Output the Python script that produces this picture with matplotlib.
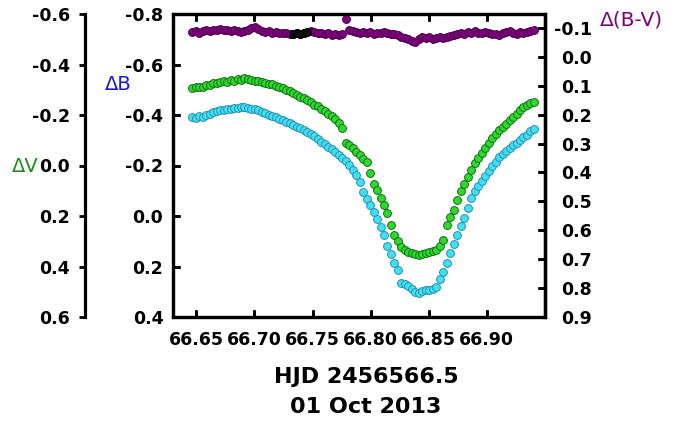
import matplotlib
matplotlib.use("Agg")
import matplotlib.pyplot as plt
from matplotlib.lines import Line2D
from matplotlib.patches import Rectangle
from matplotlib.transforms import blended_transform_factory

plt.rcParams['font.family'] = ['DejaVu Sans']
plt.rcParams['axes.unicode_minus'] = False

# ---------------- data ----------------
hjd = [66.6465, 66.6495, 66.6525, 66.6555, 66.6585, 66.6615, 66.6645, 66.6675, 66.6705, 66.6735,
       66.6765, 66.6795, 66.6825, 66.6855, 66.6885, 66.6915, 66.6945, 66.6975, 66.7005, 66.7035,
       66.7065, 66.7095, 66.7125, 66.7155, 66.7185, 66.7215, 66.7245, 66.7275, 66.7305, 66.7335,
       66.7365, 66.7395, 66.7425, 66.7455, 66.7485, 66.7515, 66.7545, 66.7575, 66.7605, 66.7635,
       66.7665, 66.7695, 66.7725, 66.7755, 66.7785, 66.7815, 66.7845, 66.7875, 66.7905, 66.7935,
       66.7965, 66.7995, 66.8025, 66.8055, 66.8085, 66.8115, 66.8145, 66.8175, 66.8205, 66.8235,
       66.8265, 66.8295, 66.8325, 66.8355, 66.8385, 66.8415, 66.8445, 66.8475, 66.8505, 66.8535,
       66.8565, 66.8595, 66.8625, 66.8655, 66.8685, 66.8715, 66.8745, 66.8775, 66.8805, 66.8835,
       66.8865, 66.8895, 66.8925, 66.8955, 66.8985, 66.9015, 66.9045, 66.9075, 66.9105, 66.9135,
       66.9165, 66.9195, 66.9225, 66.9255, 66.9285, 66.9315, 66.9345, 66.9375, 66.9405]

delta_v = [-0.305, -0.309, -0.312, -0.311, -0.320, -0.318, -0.326, -0.325, -0.330, -0.335,
           -0.332, -0.338, -0.336, -0.342, -0.340, -0.345, -0.341, -0.338, -0.333, -0.335,
           -0.329, -0.327, -0.324, -0.321, -0.316, -0.310, -0.307, -0.299, -0.294, -0.286,
           -0.281, -0.271, -0.267, -0.258, -0.252, -0.240, -0.236, -0.224, -0.217, -0.204,
           -0.197, -0.183, -0.170, -0.150, -0.088, -0.082, -0.070, -0.055, -0.042, -0.025,
           -0.012, 0.030, 0.075, 0.098, 0.128, 0.158, 0.188, 0.236, 0.275, 0.299,
           0.324, 0.334, 0.342, 0.347, 0.350, 0.355, 0.350, 0.347, 0.344, 0.340,
           0.336, 0.318, 0.295, 0.235, 0.205, 0.175, 0.135, 0.100, 0.072, 0.045,
           0.016, -0.008, -0.030, -0.049, -0.068, -0.088, -0.110, -0.124, -0.140, -0.153,
           -0.166, -0.180, -0.192, -0.205, -0.218, -0.232, -0.240, -0.247, -0.253]

delta_b = [-0.392, -0.390, -0.395, -0.392, -0.400, -0.405, -0.410, -0.414, -0.420, -0.418,
           -0.424, -0.422, -0.428, -0.426, -0.431, -0.430, -0.428, -0.425, -0.423, -0.418,
           -0.412, -0.406, -0.401, -0.396, -0.391, -0.386, -0.380, -0.374, -0.367, -0.361,
           -0.354, -0.347, -0.341, -0.334, -0.326, -0.318, -0.306, -0.295, -0.284, -0.274,
           -0.264, -0.255, -0.243, -0.230, -0.216, -0.201, -0.182, -0.163, -0.135, -0.095,
           -0.069, -0.044, -0.016, 0.012, 0.042, 0.075, 0.118, 0.150, 0.186, 0.212,
           0.265, 0.270, 0.278, 0.290, 0.300, 0.303, 0.297, 0.293, 0.295, 0.291,
           0.280, 0.250, 0.220, 0.185, 0.147, 0.110, 0.076, 0.040, 0.008, -0.031,
           -0.073, -0.098, -0.120, -0.140, -0.160, -0.178, -0.197, -0.215, -0.232, -0.245,
           -0.258, -0.268, -0.280, -0.291, -0.302, -0.311, -0.322, -0.335, -0.346]

delta_bv = [-0.086, -0.088, -0.084, -0.090, -0.092, -0.089, -0.094, -0.091, -0.095, -0.092,
            -0.093, -0.090, -0.094, -0.088, -0.086, -0.090, -0.094, -0.098, -0.103, -0.096,
            -0.090, -0.086, -0.088, -0.084, -0.086, -0.083, -0.081, -0.084, -0.080, -0.079,
            -0.082, -0.078, -0.083, -0.086, -0.088, -0.085, -0.082, -0.084, -0.079, -0.081,
            -0.077, -0.080, -0.076, -0.078, -0.131, -0.093, -0.090, -0.086, -0.083, -0.087,
            -0.082, -0.085, -0.080, -0.084, -0.081, -0.086, -0.082, -0.078, -0.080, -0.074,
            -0.070, -0.066, -0.061, -0.055, -0.052, -0.060, -0.067, -0.064, -0.068, -0.063,
            -0.066, -0.070, -0.065, -0.069, -0.073, -0.076, -0.079, -0.083, -0.080, -0.086,
            -0.083, -0.088, -0.084, -0.081, -0.085, -0.082, -0.078, -0.080, -0.076, -0.081,
            -0.085, -0.088, -0.084, -0.080, -0.085, -0.082, -0.087, -0.090, -0.094]

# a few points drawn in black within the colour-index series
black_hjd = [66.7335, 66.7365, 66.7395, 66.7425, 66.7450]
black_bv = [-0.079, -0.082, -0.078, -0.083, -0.085]

x_ticks = [66.65, 66.70, 66.75, 66.80, 66.85, 66.90]
x_tick_labels = ['66.65', '66.70', '66.75', '66.80', '66.85', '66.90']
b_ticks = [-0.8, -0.6, -0.4, -0.2, 0.0, 0.2, 0.4]
b_tick_labels = ['-0.8', '-0.6', '-0.4', '-0.2', '0.0', '0.2', '0.4']
v_ticks = [-0.6, -0.4, -0.2, 0.0, 0.2, 0.4, 0.6]
v_tick_labels = ['-0.6', '-0.4', '-0.2', '0.0', '0.2', '0.4', '0.6']
bv_ticks = [-0.1, 0.0, 0.1, 0.2, 0.3, 0.4, 0.5, 0.6, 0.7, 0.8, 0.9]
bv_tick_labels = ['-0.1', '0.0', '0.1', '0.2', '0.3', '0.4', '0.5', '0.6', '0.7', '0.8', '0.9']

# ---------------- figure ----------------
W, H = 685, 422
fig = plt.figure(figsize=(W / 100, H / 100), dpi=100)

L, R, T, B = 173, 545, 14, 317
ax = fig.add_axes([L / W, 1 - B / H, (R - L) / W, (B - T) / H])

tick_fs = 12.5
spine_lw = 2.3
tick_len_pt = 4
tick_w = 2

# main axis: delta B (cyan)
ax.set_xlim(66.630, 66.950)
ax.set_ylim(0.4, -0.8)
ax.set_xticks(x_ticks)
ax.set_xticklabels(x_tick_labels, fontsize=tick_fs, fontweight='bold')
ax.set_yticks(b_ticks)
ax.set_yticklabels(b_tick_labels, fontsize=tick_fs, fontweight='bold')
ax.tick_params(axis='x', direction='in', length=tick_len_pt, width=tick_w, top=True, pad=10)
ax.tick_params(axis='y', direction='in', length=tick_len_pt, width=tick_w, pad=7)
for s in ax.spines.values():
    s.set_linewidth(spine_lw)

# V axis (far left), green
axv = ax.twinx()
axv.set_ylim(0.6, -0.6)
axv.yaxis.set_ticks_position('left')
axv.yaxis.set_label_position('left')
axv.spines['left'].set_position(('axes', (85 - L) / (R - L)))
for k in ('right', 'top', 'bottom'):
    axv.spines[k].set_visible(False)
axv.spines['left'].set_linewidth(spine_lw)
axv.set_yticks(v_ticks)
axv.set_yticklabels(v_tick_labels, fontsize=tick_fs, fontweight='bold')
axv.tick_params(axis='y', direction='out', length=tick_len_pt, width=tick_w, pad=7)

# B-V axis (right), purple
axbv = ax.twinx()
axbv.set_ylim(0.9, -0.148)
for k in ('left', 'top', 'bottom'):
    axbv.spines[k].set_visible(False)
axbv.spines['right'].set_linewidth(spine_lw)
axbv.set_yticks(bv_ticks)
axbv.set_yticklabels(bv_tick_labels, fontsize=tick_fs, fontweight='bold', ha='right')
axbv.tick_params(axis='y', direction='in', length=tick_len_pt, width=tick_w, pad=34)

ms = 32
axbv.scatter(hjd, delta_bv, s=ms, facecolor='#800080', edgecolor='#4a004a',
             linewidths=0.7, zorder=3)
axbv.scatter(black_hjd, black_bv, s=ms, facecolor='#111111', edgecolor='#000000',
             linewidths=0.7, zorder=4)
axv.scatter(hjd, delta_v, s=ms, facecolor='#2ed82e', edgecolor='#127012',
            linewidths=0.7, zorder=3)
ax.scatter(hjd, delta_b, s=ms, facecolor='#3fe0f2', edgecolor='#2a8fb0',
           linewidths=0.7, zorder=3)

# explicit plot frame and inward tick marks drawn at figure level
fig.add_artist(Rectangle((0, 0), 1, 1, transform=ax.transAxes, fill=False,
                         edgecolor='black', linewidth=spine_lw, zorder=1))
tick_px = tick_len_pt * 100 / 72
dy = tick_px / (B - T)
dx = tick_px / (R - L)
tr_x = blended_transform_factory(ax.transData, ax.transAxes)
tr_b = blended_transform_factory(ax.transAxes, ax.transData)
tr_bv = blended_transform_factory(axbv.transAxes, axbv.transData)
for xv in x_ticks:
    fig.add_artist(Line2D([xv, xv], [0, dy], transform=tr_x, color='black',
                          linewidth=tick_w, zorder=1))
    fig.add_artist(Line2D([xv, xv], [1 - dy, 1], transform=tr_x, color='black',
                          linewidth=tick_w, zorder=1))
for yv in b_ticks[1:-1]:
    fig.add_artist(Line2D([0, dx], [yv, yv], transform=tr_b, color='black',
                          linewidth=tick_w, zorder=1))
for yv in bv_ticks[:-1]:
    fig.add_artist(Line2D([1 - dx, 1], [yv, yv], transform=tr_bv, color='black',
                          linewidth=tick_w, zorder=1))

# axis titles
fig.text(12 / W, 1 - 166 / H, '\u0394V', color='#1a8c1a', fontsize=14,
         ha='left', va='center')
fig.text(105 / W, 1 - 84 / H, '\u0394B', color='#1818c8', fontsize=14,
         ha='left', va='center')
fig.text(600 / W, 1 - 20 / H, '\u0394(B-V)', color='#800080', fontsize=14.5,
         ha='left', va='center')
fig.text(366 / W, 1 - 377 / H, 'HJD 2456566.5', fontsize=16, fontweight='bold',
         ha='center', va='center')
fig.text(366 / W, 1 - 407 / H, '01 Oct 2013', fontsize=16, fontweight='bold',
         ha='center', va='center')

fig.savefig('out.png', dpi=100, facecolor='white')
